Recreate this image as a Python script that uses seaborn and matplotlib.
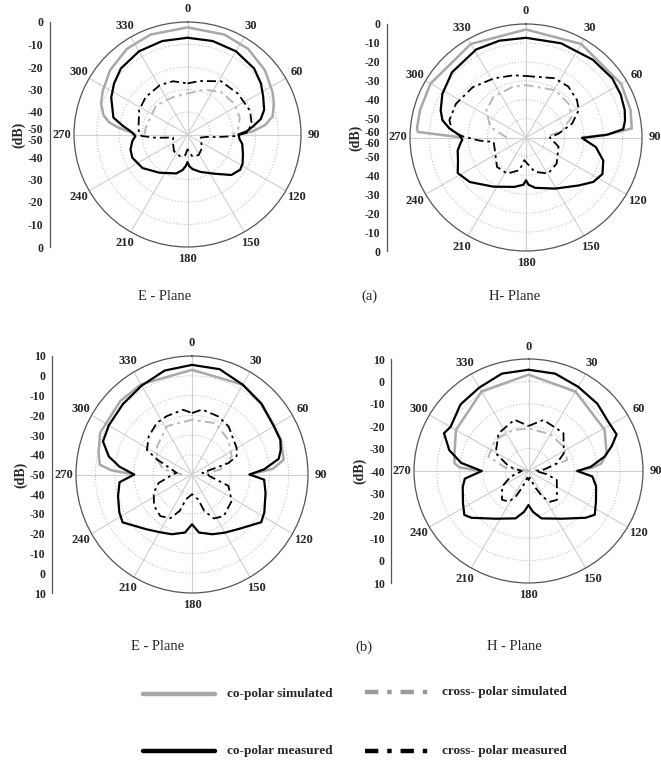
import numpy as np
import matplotlib.pyplot as plt
from matplotlib.lines import Line2D
import seaborn as sns

sns.set_style("white")
plt.rcParams['font.family'] = ['Liberation Serif', 'DejaVu Serif']

# ---- data: angle (deg, clockwise from top) and level (dB) ----
# (a) E-plane
aE_co_meas_ang = [0, 15, 30, 45, 55, 63, 72, 78, 83, 87, 90, 95, 100, 110, 118, 124, 133, 146, 161, 172, 177,
                  180, 183, 188, 196, 216, 233, 247, 255, 263, 268, 272, 278, 283, 296, 305, 315, 330, 345, 360]
aE_co_meas_db = [-7, -7, -7.3, -8.5, -10.5, -12.6, -14.5, -17, -21, -24, -27.5, -27, -25.5, -24, -22.5, -22,
                 -23.6, -29, -32.4, -34.5, -36, -37.7, -36, -34, -32, -29, -25.2, -23.6, -24, -25.5, -27, -25.7,
                 -21, -16.5, -12.6, -10.5, -8.5, -7.3, -7, -7]
aE_co_sim_ang = [-90, -87, -84, -81, -77, -70, -63, -50, -35, -20, 0, 20, 35, 50, 63, 70, 78, 83, 87, 90]
aE_co_sim_db = [-27, -24, -19, -15, -12, -9.5, -8, -5.5, -3.5, -2.7, -2.4, -2.7, -3.5, -5.5, -8, -9.5, -11.7,
                -15.6, -21, -27.5]
aE_x_meas_ang = [0, 13, 32, 51, 69, 79, 88, 92, 95, 97, 103, 110, 132, 152, 168, 180, 186, 199, 219, 235, 258,
                 264, 268, 270, 278, 297, 312, 331, 345, 360]
aE_x_meas_db = [-27.3, -25.6, -22.1, -21.3, -20.5, -21.3, -23.3, -29.3, -36.8, -41.3, -44, -43.9, -41.3, -39.6,
                -40.2, -43.4, -40.8, -39.8, -40.5, -42.3, -43.5, -36, -30, -28.7, -28.2, -26.1, -25.2, -24.9,
                -25.5, -27.3]
aE_x_sim_ang = [-90, -80, -47, -21, 0, 20, 38, 57, 72, 84, 90]
aE_x_sim_db = [-31, -31.4, -31.1, -32.2, -31.8, -28.8, -26, -25.2, -25.8, -27.6, -30]

# (a) H-plane
aH_co_meas_ang = [0, 20, 40, 55, 65, 74, 80, 85, 88, 90.5, 94, 98, 107, 116, 124, 133, 151, 170, 177, 180, 183,
                  193, 213, 231, 242, 251, 259, 265, 268, 272, 277, 282, 288, 298, 312, 331, 345, 360]
aH_co_meas_db = [-7.3, -7, -6.3, -5.5, -6, -6.9, -8, -9.5, -18, -31, -28, -23.5, -18.2, -16, -18, -22.8, -29.1,
                 -33, -35, -37.4, -35, -33.2, -29, -22.6, -20, -22.8, -24, -26, -27, -25.6, -20, -15.8, -13.6,
                 -11, -8.5, -6.8, -7, -7.3]
aH_co_sim_ang = [-90, -87, -85, -75, -60, -30, 0, 30, 60, 75, 85, 88, 90]
aH_co_sim_db = [-27, -4, -3.4, -3.3, -3, -2.9, -2.9, -2.9, -3.2, -4, -5.1, -18, -31]
aH_x_meas_ang = [0, 25, 39, 53, 62, 73, 83, 90, 106, 131, 149, 166, 180, 184, 191, 207, 224, 242, 255, 262, 266,
                 271, 274.5, 283, 296, 314, 332, 349, 360]
aH_x_meas_db = [-27.5, -25.4, -25.3, -27, -29.1, -35.1, -43, -47.7, -42.5, -39, -37.8, -41.3, -47, -48, -42.4,
                -38.6, -38.4, -42, -43, -43.1, -36, -27.4, -21.9, -19.3, -19.6, -21.7, -24.6, -26.5, -27.5]
aH_x_sim_ang = [-90, -73, -55, -38, -15, 0, 31, 51, 65, 79, 90]
aH_x_sim_db = [-50, -40.6, -35, -32.7, -32.4, -32.3, -30.8, -31.6, -33.8, -41, -50]

# (b) E-plane
bE_co_meas_ang = [0, 15, 30, 45, 60, 69, 75, 80, 86, 90, 94, 104, 117, 124, 139, 150, 161, 173, 180, 187, 199,
                  210, 221, 236, 243, 254, 264, 270, 276, 282, 290, 300, 315, 330, 345, 360]
bE_co_meas_db = [5.5, 5.2, 2.5, 0.8, -1.1, -1, -2.5, -4.5, -12.6, -20.3, -12.6, -10.8, -8, -6.8, -13.4, -16,
                 -18, -20.4, -24.8, -20.4, -18, -16.3, -13.4, -6.7, -7.8, -10.2, -12.3, -20.1, -12.3, -6, -1,
                 -0.3, 0.5, 2, 4.5, 5.5]
bE_co_sim_ang = [-90, -87, -84, -77, -66, -45, -30, 0, 30, 45, 60, 70, 81, 86, 90]
bE_co_sim_db = [-20, -8, -2, -0.4, 2, 2.5, 2.7, 3, 2.5, 0.5, -1, -1, -2, -8, -20]
bE_x_meas_ang = [0, 9, 25, 38, 60, 68, 73, 81, 88, 95, 107, 123, 142, 153, 161, 166, 180, 194, 199, 207, 218,
                 231, 245, 256, 270, 276, 293, 298, 311, 325, 336, 352, 360]
bE_x_meas_db = [-18.9, -16.7, -17.6, -19.2, -23.3, -25.1, -30.3, -44.6, -42, -41, -30.3, -25.5, -23.3, -25,
                -30.5, -37, -40, -37, -30.5, -25.1, -23.3, -24.8, -28.1, -32.2, -40, -42, -30.3, -23.6, -20.4,
                -18.2, -17.7, -16.9, -18.9]
bE_x_sim_ang = [-90, -80, -67, -52, -28, 0, 25, 47, 66, 80, 90]
bE_x_sim_db = [-45, -35, -30.3, -27, -22.3, -22.3, -21.3, -24.3, -27.5, -35, -45]

# (b) H-plane
bH_co_meas_ang = [0, 15, 30, 45, 58, 67, 73, 79, 86, 90, 95, 103, 115, 124, 130, 146, 165, 174, 180, 186, 195,
                  214, 230, 235, 243, 256, 263, 270, 277, 285, 294.6, 300, 315, 330, 345, 360]
bH_co_meas_db = [5.2, 5, 3.4, 2.5, 1.2, 1.8, -2, -6.1, -12.7, -18.7, -12, -9.7, -7.5, -5.1, -7.5, -14.3, -18.1,
                 -21.7, -24.8, -21.7, -18.1, -14.3, -7.5, -5.8, -7.9, -10.4, -12, -19.6, -10.4, -4.2, 0.6, -0.7,
                 2, 3, 5, 5.2]
bH_co_sim_ang = [-90, -87, -84, -76, -60, -30, 0, 30, 61, 77, 84, 87, 90]
bH_co_sim_db = [-19, -10, -7.5, -6.7, -3.4, 1, 3, 1, -2, -5, -8, -12, -19]
bH_x_meas_ang = [0, 16, 42, 63, 74.5, 86, 90, 100, 108, 136, 146, 152, 158, 170, 180, 190, 200, 206, 212, 222,
                 239, 252, 262, 270, 283, 299, 322, 345, 360]
bH_x_meas_db = [-19.9, -16.3, -17.2, -22.7, -27.2, -33.6, -37, -32, -27, -22.1, -23.4, -27, -32, -37, -36, -37,
                -32.5, -27.3, -23.9, -22.7, -26.6, -31.8, -36, -37, -31.3, -23.6, -18.7, -16.3, -19.9]
bH_x_sim_ang = [-90, -82, -70, -46, -20, 0, 30, 55, 74, 82, 90]
bH_x_sim_db = [-40, -30, -21.4, -20, -20.5, -21, -21, -21.2, -22.4, -32, -40]

# left dB scales (top to bottom)
aE_scale = ['0', '-10', '-20', '-30', '-40', '-50\n-50', '-40', '-30', '-20', '-10', '0']
aH_scale = ['0', '-10', '-20', '-30', '-40', '-50', '-60\n-60', '-50', '-40', '-30', '-20', '-10', '0']
bE_scale = ['10', '0', '-10', '-20', '-30', '-40', '-50', '-40', '-30', '-20', '-10', '0', '10']
bH_scale = ['10', '0', '-10', '-20', '-30', '-40', '-30', '-20', '-10', '0', '10']

angle_labels = ['0', '30', '60', '90', '120', '150', '180', '210', '240', '270', '300', '330']

# ---- figure ----
W, H = 661, 762
fig = plt.figure(figsize=(W / 100, H / 100), dpi=100)


def box(x, y, w, h):
    # pixel box (top-left origin) -> figure fraction
    return [x / W, 1 - (y + h) / H, w / W, h / H]


CO_SIM = '#a8a8a8'
X_SIM = '#b8b8b8'
DASHDOT = (0, (5, 2.2, 1.5, 2.2))


def panel(cx, cy, rx, ry, sx, rlim, scale, curves):
    ax = fig.add_axes(box(cx - rx, cy - ry, 2 * rx, 2 * ry), projection='polar')
    ax.set_aspect('auto')
    ax.set_theta_zero_location('N')
    ax.set_theta_direction(-1)
    ax.set_axisbelow(True)

    co_sim, co_meas, x_sim, x_meas = curves
    sns.lineplot(x=np.deg2rad(co_sim[0]), y=co_sim[1], ax=ax, sort=False, estimator=None,
                 color=CO_SIM, lw=1.8)
    sns.lineplot(x=np.deg2rad(x_sim[0]), y=x_sim[1], ax=ax, sort=False, estimator=None,
                 color=X_SIM, lw=1.4, linestyle=DASHDOT)
    sns.lineplot(x=np.deg2rad(x_meas[0]), y=x_meas[1], ax=ax, sort=False, estimator=None,
                 color='black', lw=1.3, linestyle=DASHDOT)
    sns.lineplot(x=np.deg2rad(co_meas[0]), y=co_meas[1], ax=ax, sort=False, estimator=None,
                 color='black', lw=1.6)

    ax.set_ylim(*rlim)
    ax.set_yticks(np.arange(rlim[0] + 10, rlim[1], 10))
    ax.set_yticklabels([])
    ax.set_xticks(np.deg2rad(np.arange(0, 360, 30)))
    ax.set_xticklabels(angle_labels, fontsize=9, fontweight='bold')
    ax.tick_params(axis='x', pad=-1.5)
    ax.xaxis.grid(True, color='#cfcfcf', lw=0.8, ls='-')
    ax.yaxis.grid(True, color='#b5b5b5', lw=0.7, ls=(0, (1, 2)))
    ax.spines['polar'].set_color('#555555')
    ax.spines['polar'].set_linewidth(0.9)
    ax.set_xlabel('')
    ax.set_ylabel('')

    # vertical dB scale on the left
    sa = fig.add_axes(box(sx, cy - ry, 0.5, 2 * ry))
    span = rlim[1] - rlim[0]
    sa.set_ylim(-span, span)
    n = len(scale)
    pos = [10 * (n // 2 - i) for i in range(n)]
    sa.set_yticks(pos)
    sa.set_yticklabels(scale, fontsize=8.5, fontweight='bold', linespacing=0.9)
    sa.set_yticks(np.arange(-span + 5, span, 10), minor=True)
    sa.tick_params(axis='y', which='major', length=3.5, width=0.8, color='#555555', pad=1)
    sa.tick_params(axis='y', which='minor', length=2, width=0.6, color='#555555')
    sa.set_xticks([])
    for s in ['top', 'right', 'bottom']:
        sa.spines[s].set_visible(False)
    sa.spines['left'].set_color('#555555')
    sa.spines['left'].set_linewidth(0.9)
    sa.set_facecolor('none')
    sa.set_ylabel('(dB)', fontsize=10, fontweight='bold', labelpad=2)


panel(187.5, 134.5, 113.5, 112.5, 50, (-50, 0), aE_scale,
      [(aE_co_sim_ang, aE_co_sim_db), (aE_co_meas_ang, aE_co_meas_db),
       (aE_x_sim_ang, aE_x_sim_db), (aE_x_meas_ang, aE_x_meas_db)])
panel(526, 137.5, 116, 113.5, 387, (-60, 0), aH_scale,
      [(aH_co_sim_ang, aH_co_sim_db), (aH_co_meas_ang, aH_co_meas_db),
       (aH_x_sim_ang, aH_x_sim_db), (aH_x_meas_ang, aH_x_meas_db)])
panel(192, 474.5, 116, 118.5, 52, (-50, 10), bE_scale,
      [(bE_co_sim_ang, bE_co_sim_db), (bE_co_meas_ang, bE_co_meas_db),
       (bE_x_sim_ang, bE_x_sim_db), (bE_x_meas_ang, bE_x_meas_db)])
panel(528.5, 471, 114.5, 112, 391, (-40, 10), bH_scale,
      [(bH_co_sim_ang, bH_co_sim_db), (bH_co_meas_ang, bH_co_meas_db),
       (bH_x_sim_ang, bH_x_sim_db), (bH_x_meas_ang, bH_x_meas_db)])

# captions
for x, y, s in [(165, 296, 'E - Plane'), (369, 296, '(a)'), (515, 296, 'H- Plane'),
                (158, 647, 'E - Plane'), (364, 647, '(b)'), (514, 647, 'H - Plane')]:
    fig.text(x / W, 1 - y / H, s, ha='center', va='center', fontsize=10.5)

# legend
legend_items = [(143, 215, 694, CO_SIM, '-', 'co-polar simulated'),
                (365, 430, 692, '#9a9a9a', DASHDOT, 'cross- polar simulated'),
                (143, 215, 751, 'black', '-', 'co-polar measured'),
                (365, 430, 751, 'black', DASHDOT, 'cross- polar measured')]
for x0, x1, y, c, ls, label in legend_items:
    fig.add_artist(Line2D([x0 / W, x1 / W], [1 - y / H, 1 - y / H], color=c, lw=3.2,
                          linestyle=ls if ls == '-' else (0, (3, 2, 1, 2))))
    fig.text((x1 + 12) / W, 1 - y / H, label, ha='left', va='center', fontsize=9.5,
             fontweight='bold')

fig.savefig('out.png', dpi=100)
